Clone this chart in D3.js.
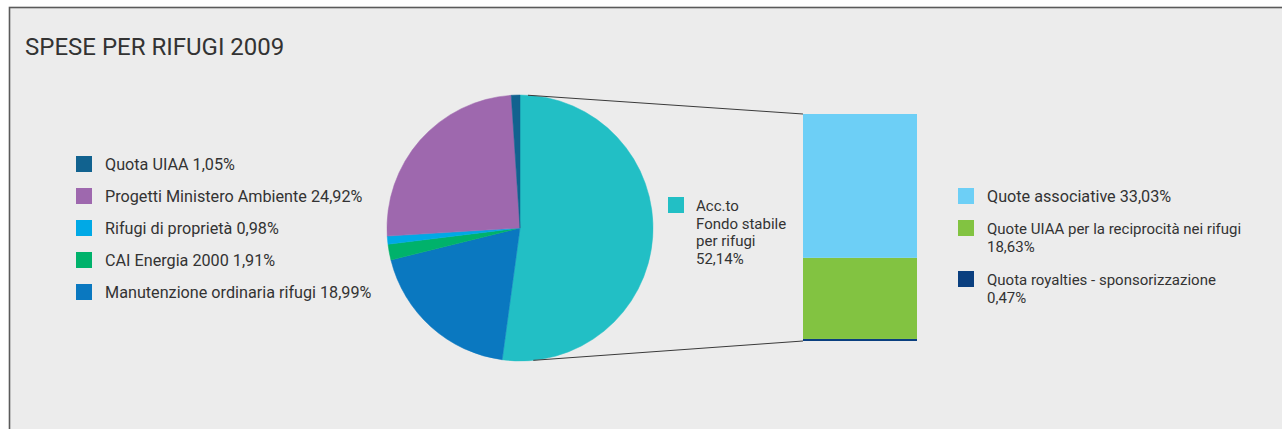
<!DOCTYPE html>
<html>
<head>
<meta charset="utf-8">
<script src="https://cdn.jsdelivr.net/npm/d3@7"></script>
<style>
  html, body { margin: 0; padding: 0; background: #ffffff; }
  svg { display: block; }
  text { font-family: Roboto, "Noto Sans", sans-serif; fill: #333333; }
</style>
</head>
<body>
<svg id="chart" width="1282" height="429"></svg>
<script>
// Spese per rifugi 2009 — pie of expenses, with the fund slice broken down in a stacked bar
const title = "SPESE PER RIFUGI 2009";

const otherLabels = ["Quota UIAA", "Progetti Ministero Ambiente", "Rifugi di proprietà", "CAI Energia 2000", "Manutenzione ordinaria rifugi"];
const otherValues = [1.05, 24.92, 0.98, 1.91, 18.99];
const otherColors = ["#11628f", "#9e68ae", "#00a9e6", "#00b26b", "#0a78c0"];

const fundLines = ["Acc.to", "Fondo stabile", "per rifugi"];
const fundValue = 52.14;
const fundColor = "#22bfc5";

const fundParts = ["Quote associative", "Quote UIAA per la reciprocità nei rifugi", "Quota royalties - sponsorizzazione"];
const fundPartValues = [33.03, 18.63, 0.47];
const fundPartColors = ["#6dcff6", "#82c341", "#0a3f7f"];
const fundPartWrap = [false, true, true];

const fmt = v => d3.format(".2f")(v).replace(".", ",") + "%";

const svg = d3.select("#chart");
const fs = 16.2;      // single-line labels
const fsWrap = 15;    // multi-line labels
const lineH = 17.6;

// panel
svg.append("rect")
  .attr("x", 9.5).attr("y", 7.5)
  .attr("width", 1290).attr("height", 440)
  .attr("fill", "#ececec")
  .attr("stroke", "#5a5a5a").attr("stroke-width", 1.6);

svg.append("text")
  .attr("x", 25).attr("y", 55)
  .attr("font-size", 24)
  .attr("fill", "#2b2b2b")
  .text(title);

// pie: fund first, then the other items clockwise (legend order reversed)
const pieData = [{ label: fundLines.join(" "), value: fundValue, color: fundColor }]
  .concat(otherLabels.map((l, i) => ({ label: l, value: otherValues[i], color: otherColors[i] })).reverse());

const cx = 520, cy = 228, r = 133;
const pie = d3.pie().sort(null).value(d => d.value);
const arc = d3.arc().innerRadius(0).outerRadius(r);
const arcs = pie(pieData);

const gPie = svg.append("g").attr("transform", `translate(${cx},${cy})`);
gPie.selectAll("path").data(arcs).join("path")
  .attr("d", arc)
  .attr("fill", d => d.data.color)
  .attr("stroke", d => d.data.color)
  .attr("stroke-width", 0.5);

// stacked bar for the fund breakdown
const barX = 803, barW = 114, barTop = 114, barBottom = 341;
const total = d3.sum(fundPartValues);
const yBar = d3.scaleLinear().domain([0, total]).range([barBottom, barTop]);

// stack bottom-up: last item at the bottom
let acc = 0;
const segs = fundPartValues.map((v, i) => ({ v, i })).reverse().map(d => {
  const s = { i: d.i, y0: acc, y1: acc + d.v };
  acc += d.v;
  return s;
});
svg.append("g").selectAll("rect").data(segs).join("rect")
  .attr("x", barX).attr("width", barW)
  .attr("y", d => yBar(d.y1))
  .attr("height", d => yBar(d.y0) - yBar(d.y1))
  .attr("fill", d => fundPartColors[d.i]);

// connector lines from the fund slice to the bar
const edgePoint = ang => [cx + r * Math.sin(ang), cy - r * Math.cos(ang)];
const topPt = edgePoint(arcs[0].startAngle + 0.06);
const botPt = edgePoint(Math.PI - 0.1);
svg.append("line")
  .attr("x1", topPt[0]).attr("y1", topPt[1])
  .attr("x2", barX).attr("y2", yBar(total))
  .attr("stroke", "#3a3a3a").attr("stroke-width", 1);
svg.append("line")
  .attr("x1", botPt[0]).attr("y1", botPt[1])
  .attr("x2", barX).attr("y2", yBar(0))
  .attr("stroke", "#3a3a3a").attr("stroke-width", 1);

// left legend
const gL = svg.append("g");
otherLabels.forEach((l, i) => {
  const yc = 164 + i * 32;
  gL.append("rect").attr("x", 76).attr("y", yc - 8).attr("width", 16).attr("height", 16).attr("fill", otherColors[i]);
  gL.append("text").attr("x", 105).attr("y", yc + 6).attr("font-size", fs)
    .text(`${l} ${fmt(otherValues[i])}`);
});

// fund label, one text per line
svg.append("rect").attr("x", 668).attr("y", 197).attr("width", 16).attr("height", 16).attr("fill", fundColor);
svg.append("g").selectAll("text")
  .data(fundLines.concat([fmt(fundValue)]))
  .join("text")
  .attr("x", 696)
  .attr("y", (d, k) => 211 + k * lineH)
  .attr("font-size", fsWrap)
  .text(d => d);

// right legend
const rightRows = [196, 228, 279];
fundParts.forEach((l, i) => {
  const yc = rightRows[i];
  svg.append("rect").attr("x", 958).attr("y", yc - 8).attr("width", 16).attr("height", 16).attr("fill", fundPartColors[i]);
  if (fundPartWrap[i]) {
    svg.append("text").attr("x", 987).attr("y", yc + 6).attr("font-size", fsWrap).text(l);
    svg.append("text").attr("x", 987).attr("y", yc + 6 + lineH).attr("font-size", fsWrap).text(fmt(fundPartValues[i]));
  } else {
    svg.append("text").attr("x", 987).attr("y", yc + 6).attr("font-size", fs)
      .text(`${l} ${fmt(fundPartValues[i])}`);
  }
});
</script>
</body>
</html>
